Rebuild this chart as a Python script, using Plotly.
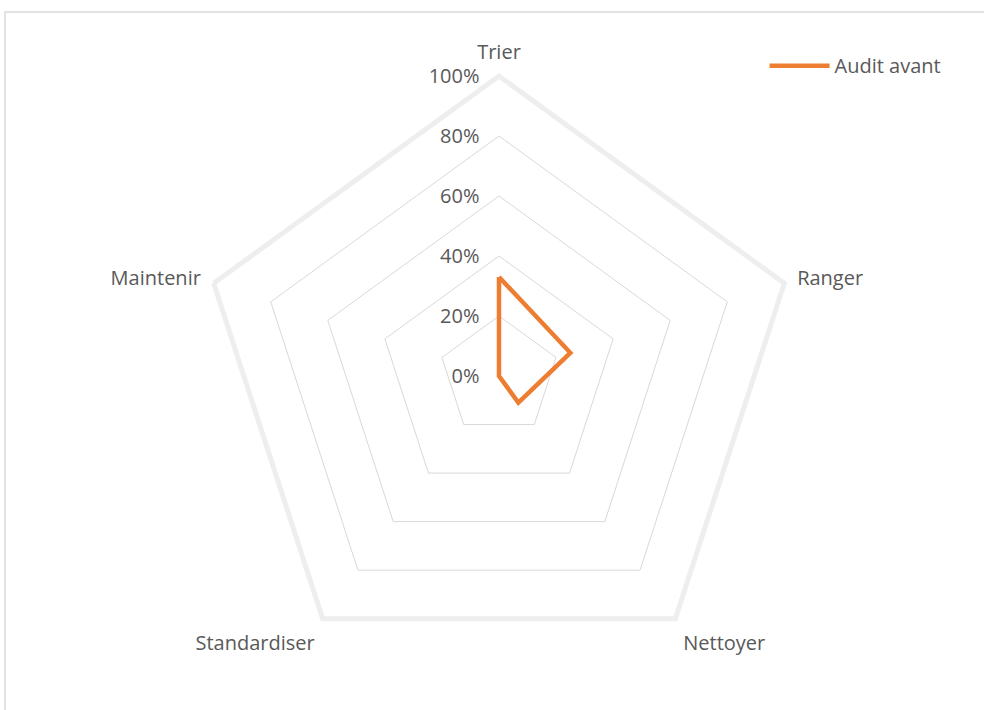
import plotly.graph_objects as go

categories = ["Trier", "Ranger", "Nettoyer", "Standardiser", "Maintenir"]
audit_avant = [0.33, 0.25, 0.11, 0.0, 0.0]
radial_ticks = [0, 0.2, 0.4, 0.6, 0.8, 1.0]

W, H = 984, 710
cx, cy, R = 499, 376, 300

fig = go.Figure()
fig.add_trace(go.Scatterpolar(
    r=audit_avant + audit_avant[:1],
    theta=categories + categories[:1],
    mode="lines",
    name="Audit avant",
    line=dict(color="#ED7D31", width=4.5),
    showlegend=True,
))

font = dict(family="'Open Sans', sans-serif", size=20, color="#595959")

fig.update_layout(
    width=W, height=H,
    margin=dict(l=0, r=0, t=0, b=0),
    paper_bgcolor="white",
    plot_bgcolor="white",
    font=font,
    polar=dict(
        domain=dict(x=[(cx - R) / W, (cx + R) / W], y=[(H - cy - R) / H, (H - cy + R) / H]),
        bgcolor="white",
        gridshape="linear",
        radialaxis=dict(
            range=[0, 1],
            tickvals=radial_ticks,
            tickformat=".0%",
            angle=90,
            side="counterclockwise",
            showline=False,
            showgrid=True,
            gridcolor="#d9d9d9",
            gridwidth=1,
            ticks="outside",
            ticklen=12,
            tickcolor="rgba(0,0,0,0)",
            tickfont=font,
            tickangle=90,
        ),
        angularaxis=dict(
            direction="clockwise",
            rotation=90,
            showgrid=False,
            showline=True,
            linecolor="#eeeeee",
            linewidth=5,
            ticks="outside",
            ticklen=7,
            tickcolor="rgba(0,0,0,0)",
            tickfont=font,
        ),
    ),
    legend=dict(
        x=0.777, y=0.935, xanchor="left", yanchor="top",
        font=font, bgcolor="rgba(0,0,0,0)",
        itemwidth=60,
    ),
    shapes=[dict(
        type="rect", xref="paper", yref="paper",
        x0=5 / W, x1=1.05, y0=-0.05, y1=(H - 12) / H,
        line=dict(color="#d9d9d9", width=1.5),
    )],
)

fig.write_html("out.html")
